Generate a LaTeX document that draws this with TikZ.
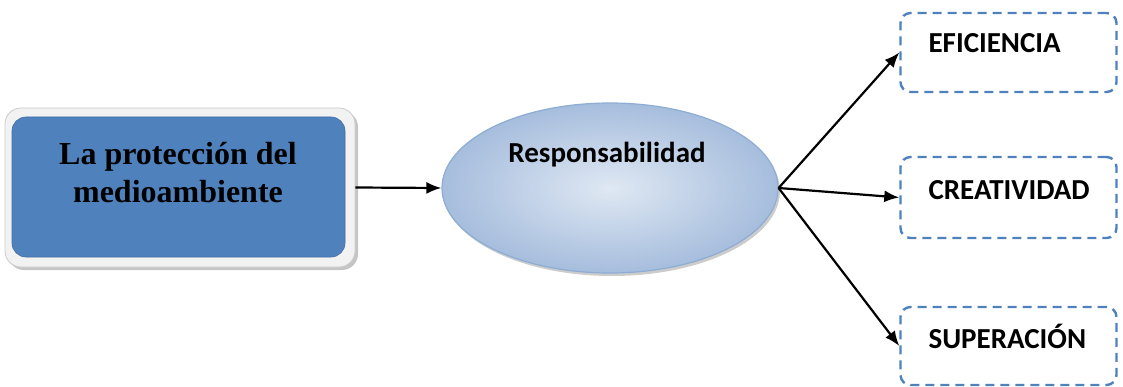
\documentclass[tikz,border=0pt]{standalone}
\usepackage{fontspec}
\setmainfont{Liberation Serif}
\newfontfamily\calibri{Carlito}
\usetikzlibrary{shapes.geometric,arrows.meta,positioning,shadows}

\definecolor{blueacc}{HTML}{4F81BD}
\definecolor{ovalin}{HTML}{DFE8F3}
\definecolor{ovalout}{HTML}{A6BDDD}

\begin{document}
\begin{tikzpicture}[
    x=1pt, y=-1pt,
    framebox/.style={
        rectangle,
        rounded corners=16pt,
        minimum width=350pt,
        minimum height=159pt,
        fill=black!5,
        draw=black!20,
        line width=0.8pt,
        drop shadow={shadow xshift=3pt, shadow yshift=-3pt, fill=black!45},
    },
    themebox/.style={
        rectangle,
        rounded corners=14pt,
        minimum width=333pt,
        minimum height=140pt,
        fill=blueacc,
        draw=blueacc!85!black,
        line width=0.6pt,
    },
    themetext/.style={
        font=\fontsize{32}{38}\selectfont\bfseries,
        align=center,
        anchor=base,
    },
    oval/.style={
        ellipse,
        minimum width=336pt,
        minimum height=170pt,
        inner color=ovalin,
        outer color=ovalout,
        draw=blueacc!65,
        line width=1.2pt,
        drop shadow={shadow xshift=2pt, shadow yshift=-3pt, fill=black!40},
    },
    valuebox/.style={
        rectangle,
        rounded corners=10pt,
        minimum width=216pt,
        minimum height=#1,
        draw=blueacc,
        line width=2.4pt,
        dash pattern=on 9pt off 6pt,
    },
    valuetext/.style={
        font=\calibri\fontsize{29}{34}\selectfont\bfseries,
        anchor=base west,
    },
    arrow/.style={
        -{Latex[length=15pt, width=12pt]},
        line width=2.2pt,
        black,
    },
]
\useasboundingbox (0,0) rectangle (1123,387);

% === Theme box ===
\node[framebox] (frame) at (180,187.5) {};
\node[themebox] (theme) at (178.5,187) {};
\node[themetext] (themetxt) at (178,203) {La protección del\\medioambiente};

% === Central value ===
\node[oval] (resp) at (610,188) {};
\node[font=\calibri\fontsize{29}{34}\selectfont\bfseries, anchor=base] (resptxt) at (607,163) {Responsabilidad};

% === Values ===
\node[valuebox=79pt] (eff) at (1008.5,52.5) {};
\node[valuetext] (efftxt) at (925,53) {EFICIENCIA};

\node[valuebox=81pt] (cre) at (1008.5,197.5) {};
\node[valuetext] (cretxt) at (925,200) {CREATIVIDAD};

\node[valuebox=78pt] (sup) at (1008.5,346) {};
\node[valuetext] (suptxt) at (925,348) {SUPERACIÓN};

% === Arrows ===
\draw[arrow] (frame.east) -- (resp.west);
\draw[arrow] (resp.east) -- (eff.west);
\draw[arrow] (resp.east) -- (cre.west);
\draw[arrow] (resp.east) -- (sup.west);

\end{tikzpicture}
\end{document}
